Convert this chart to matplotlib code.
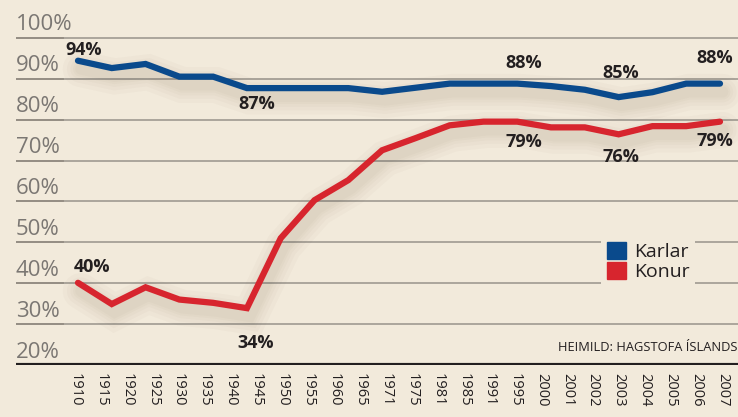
import numpy as np
import matplotlib
matplotlib.use('Agg')
import matplotlib.pyplot as plt
import matplotlib.patheffects as pe
from matplotlib.transforms import blended_transform_factory

# x-axis labels as printed in the source chart
years = ['1910', '1915', '1920', '1925', '1930', '1935', '1940', '1945', '1950',
         '1955', '1960', '1965', '1971', '1975', '1981', '1985', '1991', '1995',
         '2000', '2001', '2002', '2003', '2004', '2005', '2006', '2007']

# values as drawn (20 points per line)
karlar = [94.4, 92.6, 93.6, 90.5, 90.5, 87.7, 87.7, 87.7, 87.7, 86.8,
          87.8, 88.8, 88.8, 88.8, 88.2, 87.3, 85.5, 86.7, 88.8, 88.8]
konur = [40.1, 34.9, 39.0, 36.0, 35.2, 33.9, 51.0, 60.3, 65.2, 72.5,
         75.5, 78.6, 79.5, 79.5, 78.1, 78.1, 76.4, 78.4, 78.4, 79.5]

# (index, text, dx, dy) label offsets in pixels
karlar_notes = [(0, '94%', 6, 11), (5, '87%', 10, -16), (13, '88%', 6, 21),
                (16, '85%', 2, 24), (19, '88%', -5, 26)]
konur_notes = [(0, '40%', 14, 16), (5, '34%', 9, -35), (13, '79%', 7, -20),
               (16, '76%', 2, -23), (19, '79%', -5, -19)]

yvals = [20, 30, 40, 50, 60, 70, 80, 90, 100]

BG = '#f2eadb'
BLUE = '#0a4a8c'
RED = '#d7252e'
GRID = '#aca69c'

plt.rcParams['font.family'] = ['Open Sans', 'DejaVu Sans']

fig = plt.figure(figsize=(7.38, 4.17), dpi=100, facecolor=BG)
ax = fig.add_axes([16 / 738, 52 / 417, 722 / 738, 365 / 417])
ax.set_facecolor(BG)

n = len(karlar)
x = np.arange(n)
step = 33.8
ax.set_xlim(-62 / step, n - 1 + 18 / step)
ax.set_ylim(20, 20 + 365 / 4.09)

# grid lines
for v in yvals[1:]:
    ax.axhline(v, color=GRID, lw=1.4, zorder=1)
    ax.axhline(v, xmin=0, xmax=47 / 722, color='#968f85', lw=1.4, zorder=1)
ax.axhline(20, color='#231f20', lw=3, zorder=3)

trans = blended_transform_factory(ax.transAxes, ax.transData)
for v in yvals:
    ax.text(0, v + 0.6, f'{v}%', transform=trans, ha='left', va='bottom',
            fontsize=16, color='#7b7773', zorder=4)

# soft drop shadow under the lines
shadow = [pe.SimpleLineShadow(offset=(2, -6), shadow_color='#4a3a20', alpha=0.025, linewidth=w)
          for w in (26, 20, 15, 11, 8)] + [pe.Normal()]
ax.plot(x, karlar, color=BLUE, lw=4.5, solid_joinstyle='miter', solid_capstyle='round',
        zorder=5, path_effects=shadow, label='Karlar')
ax.plot(x, konur, color=RED, lw=4.5, solid_joinstyle='miter', solid_capstyle='round',
        zorder=5, path_effects=shadow, label='Konur')

for data, notes in ((karlar, karlar_notes), (konur, konur_notes)):
    for i, t, dx, dy in notes:
        ax.annotate(t, xy=(x[i], data[i]), xytext=(dx, dy), textcoords='offset pixels',
                    ha='center', va='center', fontsize=13, fontweight='bold',
                    color='#231f20', zorder=6)

# x tick labels sit on their own spacing
lab_pos = (np.arange(len(years)) * 25.92 - 3) / step
ax.set_xticks(lab_pos)
ax.set_xticklabels(years, rotation=-90, fontsize=10.5, color='#231f20')
ax.tick_params(axis='x', length=0, pad=6)
ax.set_yticks([])
for s in ax.spines.values():
    s.set_visible(False)

# legend
h1 = plt.Rectangle((0, 0), 1, 1, color=BLUE)
h2 = plt.Rectangle((0, 0), 1, 1, color=RED)
leg = ax.legend([h1, h2], ['Karlar', 'Konur'], loc='upper left',
                bbox_to_anchor=((591 - 16) / 722, (365 - 226) / 365),
                frameon=True, facecolor=BG, edgecolor='none', fancybox=False,
                framealpha=1, fontsize=14, handlelength=1.0, handleheight=1.0,
                handletextpad=0.4, labelspacing=0.05, borderpad=0.3)
leg.set_zorder(4)
for t in leg.get_texts():
    t.set_color('#231f20')

ax.text(1, 20 + 11 / 4.09, 'HEIMILD: HAGSTOFA ÍSLANDS', transform=trans,
        ha='right', va='bottom', fontsize=9.3, color='#231f20', zorder=4)

fig.savefig('out.png', dpi=100, facecolor=BG)
